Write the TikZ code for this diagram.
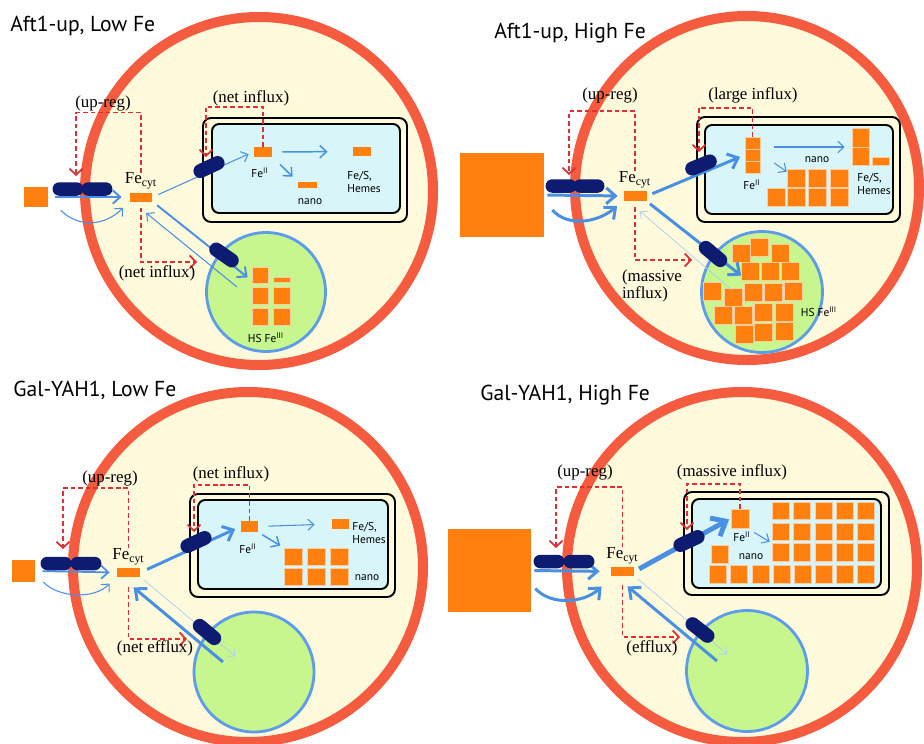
\documentclass[tikz,border=0pt]{standalone}
\usepackage{fontspec}
\setmainfont{Liberation Serif}
\setsansfont{PT Sans}
\usepackage{tikz}
\usetikzlibrary{arrows.meta, positioning, shapes.misc}
\definecolor{cellred}{HTML}{F45B3F}
\definecolor{cellcream}{HTML}{FFFADC}
\definecolor{feorange}{HTML}{FF7F0F}
\definecolor{porternavy}{HTML}{0D1B70}
\definecolor{flowblue}{HTML}{4A90E2}
\definecolor{paleblue}{HTML}{A9D0F2}
\definecolor{mitoblue}{HTML}{D8F6FA}
\definecolor{vacgreen}{HTML}{C7F58E}
\definecolor{vacblue}{HTML}{5C9CEB}
\definecolor{regred}{HTML}{DC2F36}

\begin{document}
\begin{tikzpicture}[
  x=0.02cm, y=-0.02cm,
  every node/.style={inner sep=0pt},
  cell/.style={draw=cellred, line width=5.7pt, fill=cellcream},
  title/.style={font=\sffamily\fontsize{12.3}{14}\selectfont, anchor=west},
  note/.style={font=\fontsize{9.6}{10}\selectfont, align=center},
  small/.style={font=\sffamily\fontsize{6.5}{7.2}\selectfont, align=left},
  mitoout/.style={draw=black, line width=1.1pt, fill=cellcream, rounded corners=4.5pt},
  mitoin/.style={draw=black, line width=1.1pt, fill=mitoblue, rounded corners=4pt},
  vacuole/.style={circle, draw=vacblue, line width=1.6pt, fill=vacgreen},
  porter/.style={rounded rectangle, fill=porternavy, minimum width=0.62cm, minimum height=0.27cm},
  vporter/.style={porter, minimum width=0.66cm, minimum height=0.28cm},
  fepool/.style={rectangle, fill=feorange},
  fesq/.style={fill=feorange, draw=feorange!40!white, line width=0.35pt},
  flow/.style={draw=flowblue, line width=0.6pt, -{Straight Barb[length=2.5pt 1.6, width=5pt 2.4]}},
  backflow/.style={flow, draw=paleblue, line width=0.4pt},
  reg/.style={draw=regred, line width=1pt, dash pattern=on 2.6pt off 1.7pt,
              -{Straight Barb[length=3.5pt, width=7.5pt]}}
]
\clip (0,0) rectangle (924,744);

% ---------------- Aft1-up, low iron ----------------
\draw[cell] (259,191) circle[radius=174];
\node[title] (t1) at (10,26) {Aft1-up, Low Fe};
\node[fepool, minimum width=0.5cm, minimum height=0.4cm] (out1) at (36,197) {};
\node[mitoout, minimum width=4.08cm, minimum height=2.08cm] (mo1) at (305,170) {};
\node[mitoin, minimum width=3.76cm, minimum height=1.78cm] (mi1) at (306,168.5) {};
\node[vacuole, minimum size=2.38cm] (vc1) at (266,292) {};

\node[fepool, minimum width=0.46cm, minimum height=0.18cm] (fe1) at (141,197) {};
\node[note, above=1.5pt of fe1] (fe1l) {Fe\textsubscript{cyt}};
\node[fepool, minimum width=0.38cm, minimum height=0.2cm] (f21) at (263,152) {};
\node[small] (f21l) at (260,173) {Fe\textsuperscript{II}};
\node[fepool, minimum width=0.38cm, minimum height=0.12cm] (nn1) at (307.5,185) {};
\node[small] (nn1l) at (310,202) {nano};
\node[fepool, minimum width=0.36cm, minimum height=0.18cm] (fs1) at (362,151.5) {};
\node[small, anchor=west] (fs1l) at (347,182) {Fe/S,\\Hemes};
\foreach \x/\y/\w/\h in {252/267/16/16, 273/277/17/5, 252/287/16/17, 273/287/17/17, 252/308/16/17, 273/308/17/17}
  \path[fesq] (\x,\y) rectangle ++(\w,\h);
\node[small] (hs1l) at (266,338) {HS Fe\textsuperscript{III}};

\coordinate (vr1) at (237,287);
\draw[flow, line width=1.1pt, shorten <=0.13cm, shorten >=0.15cm] (out1.east) -- (fe1.west);
\draw[flow] ([shift={(12,3)}]out1.south east) .. controls +(18,18) and +(-18,18) .. ([shift={(-6,6)}]fe1.south west);
\draw[flow, shorten <=0.12cm, shorten >=0.1cm] (fe1.east) -- (f21.west);
\draw[flow, line width=0.85pt, shorten <=0.19cm, shorten >=0.5cm] (f21.east) -- (fs1.west);
\draw[flow, line width=0.85pt, shorten <=0.2cm, shorten >=0.14cm] (f21.south east) -- (nn1.north west);
\draw[flow, line width=1.1pt, shorten <=0.11cm, shorten >=0.47cm] (fe1.south east) -- (vc1.center);
\draw[flow] (vr1) -- ([shift={(5,11)}]fe1.south);

\node[porter] (pa1) at (68,189) {};
\node[porter] (pb1) at (97,189) {};
\node[vporter, rotate=25] (mp1) at (209,167) {};
\node[vporter, rotate=-35] (vp1) at (224,255) {};

\coordinate (ur1) at (76,176);
\coordinate (nf1) at (197,262);
\coordinate (mr1) at (206,157);
\draw[reg] (fe1l.north) -- ++(0,-60) -| (ur1);
\draw[reg] (fe1.south) ++(0,6) |- (nf1);
\draw[reg] (f21.north) -- ++(0,-40) -| (mr1);
\node[note] (ur1l) at (103,103) {(up-reg)};
\node[note] (nf1l) at (157,273) {(net influx)};
\node[note] (mr1l) at (251,98) {(net influx)};

% ---------------- Aft1-up, high iron ----------------
\draw[cell] (747,188) circle[radius=172];
\node[title] (t2) at (494,33) {Aft1-up, High Fe};
\node[fepool, minimum width=1.68cm, minimum height=1.68cm] (out2) at (502,195) {};
\node[mitoout, minimum width=4.06cm, minimum height=2.1cm] (mo2) at (798.5,169.5) {};
\node[mitoin, minimum width=3.76cm, minimum height=1.78cm] (mi2) at (799,169.5) {};
\node[vacuole, minimum size=2.42cm] (vc2) at (762,292) {};

\node[fepool, minimum width=0.46cm, minimum height=0.2cm] (fe2) at (635,196) {};
\node[note, above=1.5pt of fe2] (fe2l) {Fe\textsubscript{cyt}};
\node[fesq, minimum width=0.3cm, minimum height=0.24cm] (f22) at (752.5,155) {};
\path[fesq] (745,137) rectangle ++(15,12) (745,161) rectangle ++(15,12);
\node[small] (f22l) at (752,185) {Fe\textsuperscript{II}};
\node[fesq, minimum width=0.36cm, minimum height=0.36cm] (nn2) at (796,178) {};
\foreach \x/\y in {767/188, 787/188, 808/188, 830/188, 808/169, 830/169}
  \path[fesq] (\x,\y) rectangle ++(18,18);
\node[small] (nn2l) at (817,160) {nano};
\node[fesq, minimum width=0.34cm, minimum height=0.36cm] (fs2) at (860.5,156) {};
\path[fesq] (852,128) rectangle ++(17,19) (872,157) rectangle ++(17,8);
\node[small, anchor=west] (fs2l) at (857,184) {Fe/S,\\Hemes};
\foreach \x/\y in {732/244, 750/238, 771/244, 741/262, 761/262, 781/262, 703/282, 724/288, 744/283,
                   764/283, 784/282, 714/306, 734/306, 754/303, 775/303, 735/325, 754/323, 775/322}
  \path[fesq] (\x,\y) rectangle ++(18,18);
\node[small] (hs2l) at (819,312) {HS Fe\textsuperscript{III}};

\coordinate (vr2) at (732,290);
\draw[flow, line width=1.7pt, shorten <=0.06cm, shorten >=0.11cm] (out2.east) -- (fe2.west);
\draw[flow, line width=1.7pt] ([shift={(8,15)}]out2.east) .. controls +(15,17) and +(-20,17) .. ([shift={(-6,10)}]fe2.west);
\draw[flow, line width=1.7pt, shorten <=0.12cm, shorten >=0.1cm] (fe2.east) -- (f22.west);
\draw[flow] ([shift={(14,-8)}]f22.east) -- ([shift={(-7,-9)}]fs2.west);
\draw[flow] ([shift={(14,8)}]f22.east) -- ([shift={(0,3)}]nn2.north west);
\draw[flow, line width=1.7pt, shorten <=0.08cm, shorten >=0.53cm] (fe2.south east) -- (vc2.center);
\draw[backflow] (vr2) -- ([shift={(5,10)}]fe2.south);

\node[porter] (pa2) at (561,186) {};
\node[porter] (pb2) at (589,186) {};
\node[vporter, rotate=22] (mp2) at (701,165) {};
\node[vporter, rotate=-40] (vp2) at (713,254) {};

\coordinate (ur2) at (569,175);
\coordinate (nf2) at (692,260);
\coordinate (mr2) at (699,152);
\draw[reg] (fe2l.north) -- ++(0,-60) -| (ur2);
\draw[reg] (fe2.south) ++(0,6) |- (nf2);
\draw[reg] (f22.north) ++(0,-12) -- ++(0,-29) -| (mr2);
\node[note] (ur2l) at (610,95) {(up-reg)};
\node[note, align=left] (nf2l) at (652,286) {(massive\\influx)};
\node[note] (mr2l) at (753,95) {(large influx)};

% ---------------- Gal-YAH1, low iron ----------------
\draw[cell] (248,567) circle[radius=175];
\node[title] (t3) at (13,390) {Gal-YAH1, Low Fe};
\node[fepool, minimum width=0.46cm, minimum height=0.44cm] (out3) at (23.5,571) {};
\node[mitoout, minimum width=4.1cm, minimum height=2.06cm] (mo3) at (292.5,545.5) {};
\node[mitoin, minimum width=3.8cm, minimum height=1.78cm] (mi3) at (293,544.5) {};
\node[vacuole, minimum size=2.4cm] (vc3) at (254,672) {};

\node[fepool, minimum width=0.46cm, minimum height=0.18cm] (fe3) at (128.5,572.5) {};
\node[note, above=1.5pt of fe3] (fe3l) {Fe\textsubscript{cyt}};
\node[fepool, minimum width=0.34cm, minimum height=0.22cm] (f23) at (249.5,526.5) {};
\node[small] (f23l) at (248,549) {Fe\textsuperscript{II}};
\node[fesq, minimum width=0.36cm, minimum height=0.34cm] (nn3) at (293,556.5) {};
\foreach \x/\y in {307/548, 330/548, 284/568, 307/568, 330/568}
  \path[fesq] (\x,\y) rectangle ++(18,17);
\node[small] (nn3l) at (367,578) {nano};
\node[fepool, minimum width=0.34cm, minimum height=0.2cm] (fs3) at (340.5,524) {};
\node[small, anchor=west] (fs3l) at (352,533) {Fe/S,\\Hemes};

\coordinate (ve3) at (223,662);
\draw[flow, line width=1pt, shorten <=0.14cm, shorten >=0.14cm] (out3.east) -- (fe3.west);
\draw[flow] ([shift={(8,11)}]out3.east) .. controls +(15,16) and +(-15,16) .. ([shift={(-7,11)}]fe3.west);
\draw[flow, line width=1.7pt, shorten <=0.15cm, shorten >=0.12cm] (fe3.east) -- (f23.west);
\draw[flow, shorten <=0.2cm, shorten >=0.34cm] (f23.east) -- (fs3.west);
\draw[flow, line width=0.85pt, shorten <=0.09cm, shorten >=0.08cm] (f23.south east) -- (nn3.north west);
\draw[flow, line width=1.7pt] (ve3) -- ([shift={(5,10)}]fe3.south);
\draw[backflow, shorten >=0.49cm] ([shift={(4,3)}]fe3.south east) -- (vc3.center);

\node[porter] (pa3) at (56,563.5) {};
\node[porter] (pb3) at (86,563.5) {};
\node[vporter, rotate=25] (mp3) at (196,542) {};
\node[vporter, rotate=-40] (vp3) at (207,632) {};

\coordinate (ur3) at (63,549);
\coordinate (nf3) at (187,639);
\coordinate (mr3) at (194,532);
\draw[reg] (fe3l.north) -- ++(0,-60) -| (ur3);
\draw[reg] (fe3.south) ++(0,10) |- (nf3);
\draw[reg] (f23.north) -- ++(0,-36) -| (mr3);
\node[note] (ur3l) at (110,478) {(up-reg)};
\node[note] (nf3l) at (155,648) {(net efflux)};
\node[note] (mr3l) at (231,474) {(net influx)};

% ---------------- Gal-YAH1, high iron ----------------
\draw[cell] (742,567) circle[radius=175];
\node[title] (t4) at (480,395) {Gal-YAH1, High Fe};
\node[fepool, minimum width=1.66cm, minimum height=1.66cm] (out4) at (489.5,570.5) {};
\node[mitoout, minimum width=4.1cm, minimum height=2.06cm] (mo4) at (786.5,543.5) {};
\node[mitoin, minimum width=3.78cm, minimum height=1.78cm] (mi4) at (786.5,543.5) {};
\node[vacuole, minimum size=2.42cm] (vc4) at (747,671) {};

\node[fepool, minimum width=0.46cm, minimum height=0.18cm] (fe4) at (622.5,571.5) {};
\node[note, above=1.5pt of fe4] (fe4l) {Fe\textsubscript{cyt}};
\node[fesq, minimum width=0.36cm, minimum height=0.38cm] (f24) at (740,518.5) {};
\node[small] (f24l) at (742,537) {Fe\textsuperscript{II}};
\node[fesq, minimum width=0.34cm, minimum height=0.35cm] (nn4) at (780.5,531.75) {};
\foreach \x in {772,793.5,815,836.5,857.5}
  \foreach \y in {502,523,543.5}
    \path[fesq] (\x,\y) rectangle ++(17,17.5);
\foreach \x in {709,730,752,773,794,815,836,857}
  \path[fesq] (\x,565) rectangle ++(17,18);
\path[fesq] (711,545) rectangle ++(17,18);
\node[small] (nn4l) at (751,557) {nano};

\coordinate (ve4) at (717,661);
\draw[flow, line width=1.7pt, shorten <=0.06cm, shorten >=0.22cm] (out4.east) -- (fe4.west);
\draw[flow, line width=1.7pt] ([shift={(4,18)}]out4.east) .. controls +(15,17) and +(-18,17) .. ([shift={(-9,15)}]fe4.west);
\draw[flow, line width=2.8pt, shorten <=0.11cm, shorten >=1pt] (fe4.east) -- (f24.west);
\draw[flow] ([shift={(5,14)}]f24.east) -- ([shift={(-2,10)}]nn4.west);
\draw[flow, line width=1.7pt] (ve4) -- ([shift={(5,10)}]fe4.south);
\draw[backflow, shorten >=0.52cm] ([shift={(4,3)}]fe4.south east) -- (vc4.center);

\node[porter] (pa4) at (549,561.5) {};
\node[porter] (pb4) at (579,561.5) {};
\node[vporter, rotate=25] (mp4) at (689,541) {};
\node[vporter, rotate=-38] (vp4) at (700,630) {};

\coordinate (ur4) at (556,548);
\coordinate (nf4) at (680,637);
\coordinate (mr4) at (687,530);
\draw[reg] (fe4l.north) -- ++(0,-60) -| (ur4);
\draw[reg] (fe4.south) ++(0,9) |- (nf4);
\draw[reg] (f24.north) -- ++(0,-25) -| (mr4);
\node[note] (ur4l) at (585,472) {(up-reg)};
\node[note] (nf4l) at (652,648) {(efflux)};
\node[note] (mr4l) at (732,472) {(massive influx)};

\end{tikzpicture}
\end{document}
